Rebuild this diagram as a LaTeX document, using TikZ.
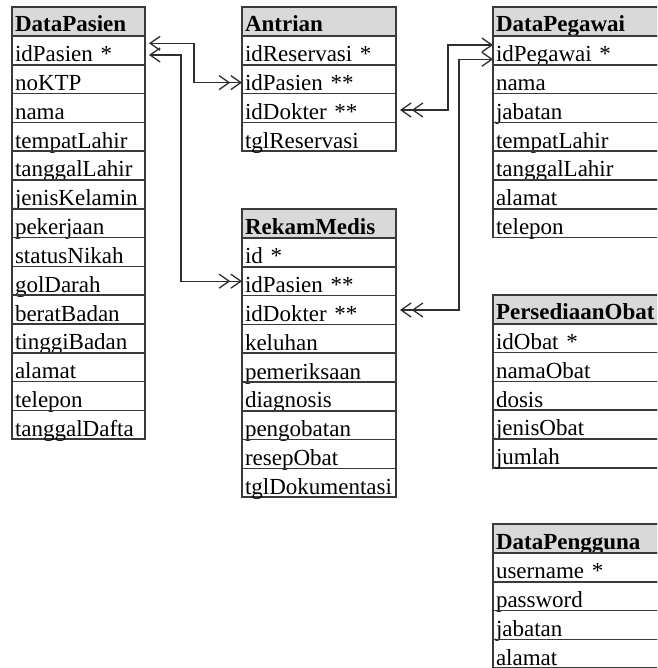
\documentclass[tikz,border=0pt]{standalone}
\usepackage{fontspec}
\setmainfont{Liberation Serif}
\usetikzlibrary{arrows.meta}
\definecolor{bordercol}{HTML}{3A3A3A}
\definecolor{hdrfill}{HTML}{D9D9D9}
\definecolor{lncol}{HTML}{2E2E2E}
\tikzset{
  rowbox/.style={draw=bordercol, line width=1.6pt, rectangle, anchor=north west,
    outer sep=0pt, inner xsep=3pt, inner ysep=0pt, text height=25.8pt, text depth=3pt,
    minimum height=28.8pt, align=left, font=\fontsize{23}{27}\selectfont},
  hdrbox/.style={rowbox, fill=hdrfill, minimum height=29pt, text height=25pt, text depth=4pt,
    font=\fontsize{23}{27}\selectfont\bfseries},
  fkline/.style={draw=lncol, line width=1.3pt,
    >={Straight Barb[length=10pt,width=14pt]}, <<->},
}
\newcommand\mktable[6]{%
  \node[hdrbox, text width=#4] (#1-0) at (#2,#3) {#5};
  \foreach \r [count=\i, remember=\i as \j (initially 0)] in {#6} {
    \node[rowbox, text width=#4] (#1-\i) at (#1-\j.south west) {\r};
  }%
}
\begin{document}
\begin{tikzpicture}[x=1pt,y=-1pt]
\useasboundingbox (0,0) rectangle (657,668);
\begin{scope}
\clip (0,0) rectangle (657,668);
\mktable{P}{12}{7}{127pt}{DataPasien}{idPasien *,noKTP,nama,tempatLahir,tanggalLahir,jenisKelamin,pekerjaan,statusNikah,golDarah,beratBadan,tinggiBadan,alamat,telepon,tanggalDafta}
\mktable{A}{242}{7}{148pt}{Antrian}{idReservasi *,idPasien **,idDokter **,tglReservasi}
\mktable{G}{493}{7}{169pt}{DataPegawai}{idPegawai *,nama,jabatan,tempatLahir,tanggalLahir,alamat,telepon}
\mktable{R}{242}{209}{148pt}{RekamMedis}{id *,idPasien **,idDokter **,keluhan,pemeriksaan,diagnosis,pengobatan,resepObat,tglDokumentasi}
\mktable{O}{493}{294.7}{169pt}{PersediaanObat}{idObat *,namaObat,dosis,jenisObat,jumlah}
\mktable{U}{493}{524}{169pt}{DataPengguna}{username *,password,jabatan,alamat}
\draw[fkline, shorten >=4pt] ([yshift=-3.4pt]A-2.west) -- ++(-48,0) |- ([yshift=7.1pt]P-1.east);
\draw[fkline, shorten >=4pt] (R-2.west) -- ++(-61,0) |- ([yshift=-4.6pt]P-1.east);
\draw[fkline, shorten <=4pt] ([yshift=-2pt]A-3.east) -- ++(52,0) |- ([yshift=5.4pt]G-1.west);
\draw[fkline, shorten <=4pt] (R-3.east) -- ++(63,0) |- ([yshift=-8.9pt]G-1.west);
\end{scope}
\end{tikzpicture}
\end{document}
